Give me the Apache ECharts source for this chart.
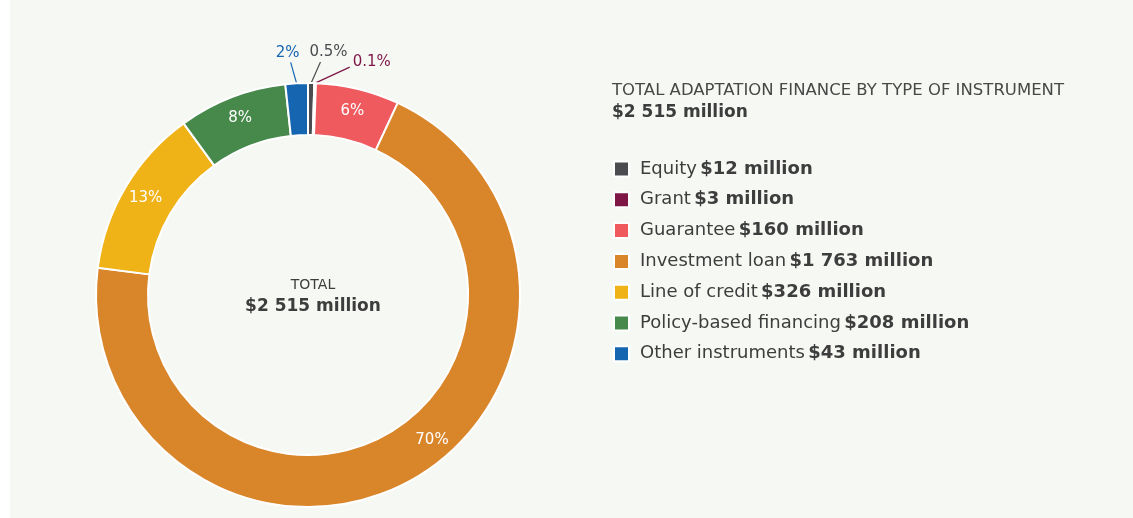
<!DOCTYPE html>
<html>
<head>
<meta charset="utf-8">
<script src="https://cdn.jsdelivr.net/npm/echarts@6/dist/echarts.min.js"></script>
<style>
  html, body { margin: 0; padding: 0; background: #ffffff; }
  #chart { position: absolute; left: 10px; top: 0; width: 1123px; height: 518px; }
</style>
</head>
<body>
<div id="chart"></div>
<script>
// data
var categories = ["Equity", "Grant", "Guarantee", "Investment loan", "Line of credit", "Policy-based financing", "Other instruments"];
var amounts = [12, 3, 160, 1763, 326, 208, 43];           // $ million
var amountLabels = ["$12 million", "$3 million", "$160 million", "$1 763 million", "$326 million", "$208 million", "$43 million"];
var pctLabels = ["0.5%", "0.1%", "6%", "70%", "13%", "8%", "2%"];
var colors = ["#4b4c50", "#7e1646", "#ef5a5e", "#d9852a", "#efb217", "#46894b", "#1565b1"];
var totalLabel = "$2 515 million";

var textDark = "#3d3d3d";
var font = "DejaVu Sans";

// nudges for the crowded top labels: line end shift, text offset from line end, alignment
var outsideTweak = {
  0: { line: [9, -3], text: [8, -2], align: "center", va: "bottom" },
  1: { line: [34, 2], text: [3, -5], align: "left", va: "middle" },
  6: { line: [-5, -3], text: [-3, -2], align: "center", va: "bottom" }
};
// 70% label sits off the slice middle in the original
var insideTweak = { 3: [33, -21] };

var chart = echarts.init(document.getElementById("chart"));

var data = categories.map(function (name, i) {
  var outside = amounts[i] / 2515 < 0.05;
  return {
    name: name,
    value: amounts[i],
    itemStyle: { color: colors[i] },
    label: outside
      ? { position: "outside", color: colors[i] }
      : { position: "inside", color: "#ffffff" },
    labelLine: { show: outside, lineStyle: { color: colors[i], width: 1.2 } }
  };
});

var option = {
  backgroundColor: "#f6f8f3",
  animation: false,
  title: [
    {
      text: "TOTAL",
      subtext: totalLabel,
      left: 298,
      top: 273,
      textAlign: "center",
      itemGap: 6,
      textStyle: { fontFamily: font, fontSize: 14, fontWeight: "normal", color: textDark },
      subtextStyle: { fontFamily: font, fontSize: 17, fontWeight: "bold", color: textDark }
    },
    {
      text: "TOTAL ADAPTATION FINANCE BY TYPE OF INSTRUMENT",
      subtext: totalLabel,
      left: 597,
      top: 77,
      itemGap: 5,
      textStyle: { fontFamily: font, fontSize: 16.5, fontWeight: "normal", color: "#484848" },
      subtextStyle: { fontFamily: font, fontSize: 17, fontWeight: "bold", color: textDark }
    }
  ],
  legend: {
    orient: "vertical",
    left: 598,
    top: 155,
    itemWidth: 15,
    itemHeight: 15,
    itemGap: 12.8,
    icon: "rect",
    selectedMode: false,
    data: categories,
    formatter: function (name) {
      var i = categories.indexOf(name);
      return "{n|" + name + "} {b|" + amountLabels[i] + "}";
    },
    textStyle: {
      rich: {
        n: { fontFamily: font, fontSize: 18, color: textDark, padding: [0, 0, 0, 6] },
        b: { fontFamily: font, fontSize: 18, fontWeight: "bold", color: textDark }
      }
    }
  },
  series: [
    {
      type: "pie",
      center: [298, 295],
      radius: [160, 212],
      startAngle: 90,
      clockwise: true,
      avoidLabelOverlap: false,
      itemStyle: { borderColor: "#ffffff", borderWidth: 2 },
      label: {
        fontFamily: font,
        fontSize: 15,
        formatter: function (p) { return pctLabels[p.dataIndex]; }
      },
      labelLine: { length: 18, length2: 0 },
      labelLayout: function (p) {
        var t = outsideTweak[p.dataIndex];
        if (t && p.labelLinePoints) {
          var pts = p.labelLinePoints;
          var end = pts[pts.length - 1];
          var newEnd = [end[0] + t.line[0], end[1] + t.line[1]];
          return {
            x: newEnd[0] + t.text[0],
            y: newEnd[1] + t.text[1],
            align: t.align,
            verticalAlign: t.va,
            labelLinePoints: [pts[0], newEnd, newEnd]
          };
        }
        var s = insideTweak[p.dataIndex];
        if (s) return { dx: s[0], dy: s[1] };
        return {};
      },
      data: data
    }
  ]
};

chart.setOption(option);
</script>
</body>
</html>
